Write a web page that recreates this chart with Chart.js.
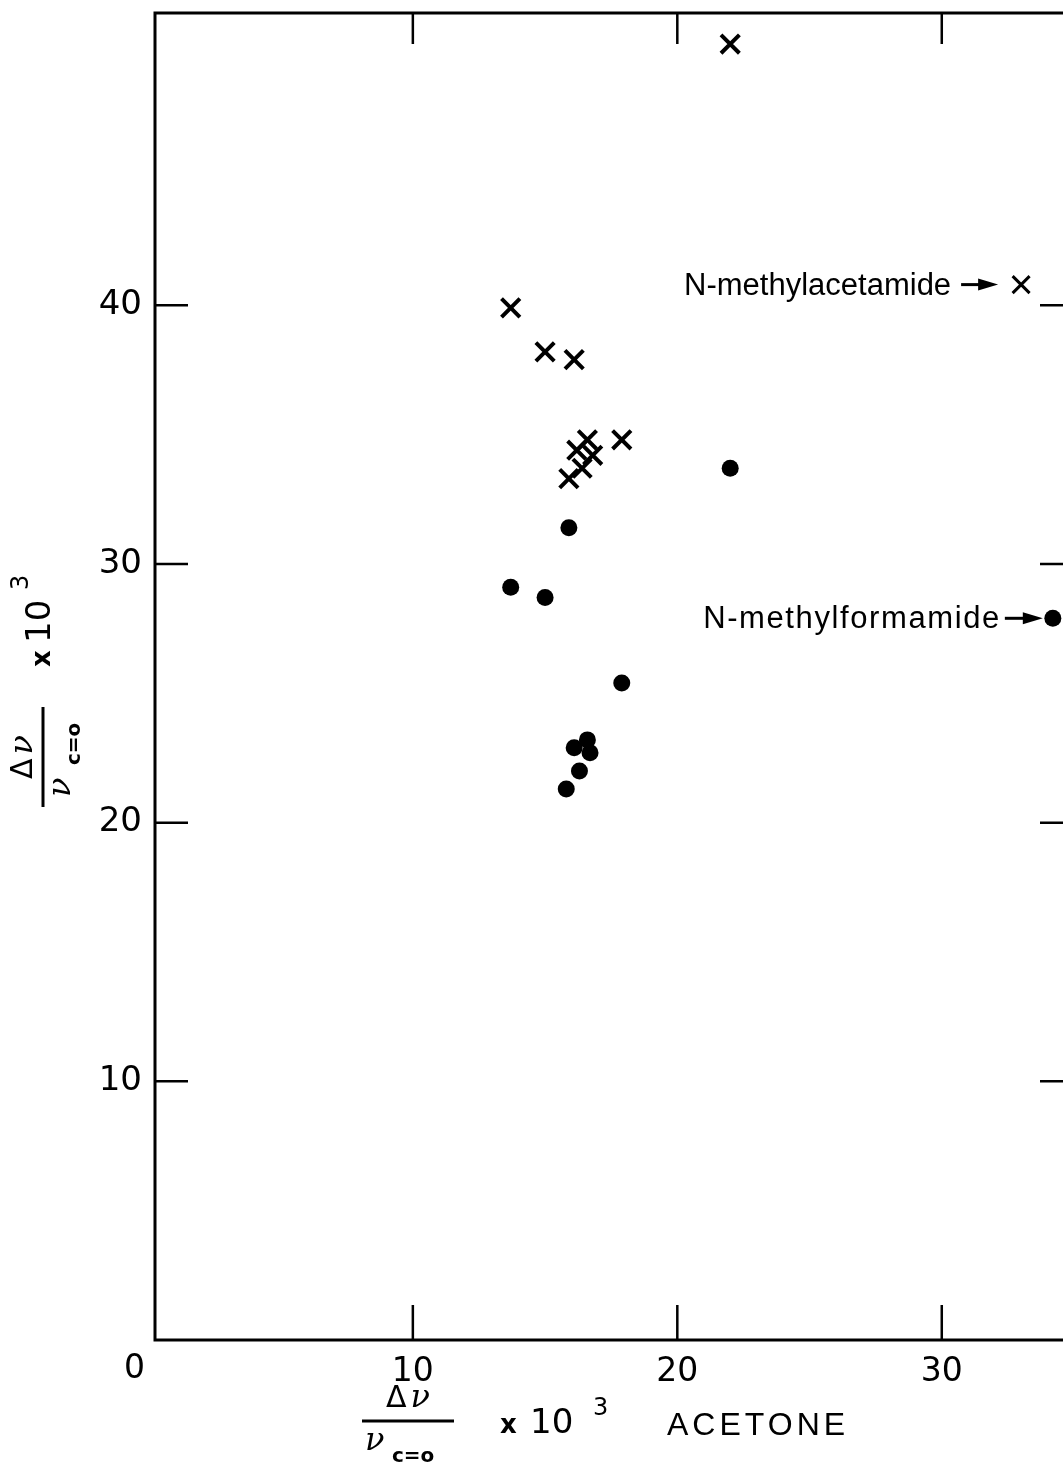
<!DOCTYPE html>
<html>
<head>
<meta charset="utf-8">
<script src="https://cdn.jsdelivr.net/npm/chart.js@4.4.1/dist/chart.umd.min.js"></script>
<style>
  html, body { margin: 0; padding: 0; background: #fff; overflow: hidden; }
  canvas { display: block; }
</style>
</head>
<body>
<canvas id="shiftChart" width="1080" height="1467"></canvas>
<script>
// shift (x 10^3) against acetone shift (x 10^3)
const crossX = [22.0, 13.7, 15.0, 16.1, 15.9, 16.2, 16.6, 16.4, 16.8, 17.9];
const crossY = [50.1, 39.9, 38.2, 37.9, 33.3, 34.4, 34.8, 33.7, 34.2, 34.8];

const dotX = [15.9, 13.7, 15.0, 17.9, 16.6, 16.1, 16.7, 16.3, 15.8, 22.0];
const dotY = [31.4, 29.1, 28.7, 25.4, 23.2, 22.9, 22.7, 22.0, 21.3, 33.7];

// labelled points
const namedLabels = ['N-methylacetamide', 'N-methylformamide'];
const namedX = [33.0, 34.2];
const namedY = [40.8, 27.9];

const xTicks = [10, 20, 30];
const yTicks = [10, 20, 30, 40];

const toPts = (xs, ys) => xs.map((v, i) => ({ x: v, y: ys[i] }));

function arrow(ctx, x1, x2, y) {
  ctx.beginPath();
  ctx.moveTo(x1, y);
  ctx.lineTo(x2 - 14, y);
  ctx.lineWidth = 3;
  ctx.stroke();
  ctx.beginPath();
  ctx.moveTo(x2 - 20, y - 6);
  ctx.lineTo(x2, y);
  ctx.lineTo(x2 - 20, y + 6);
  ctx.closePath();
  ctx.fill();
}

// fraction dv / v(c=o) followed by "x 10^3"
function axisTitle(ctx, o) {
  ctx.textBaseline = 'alphabetic';
  ctx.textAlign = 'left';
  ctx.font = '30px "DejaVu Sans"';
  const dw = ctx.measureText('\u0394').width;
  ctx.font = 'italic 32px "DejaVu Serif"';
  const nw = ctx.measureText('\u03bd').width;
  let sx = -(dw + 4 + nw) / 2;
  ctx.font = '30px "DejaVu Sans"';
  ctx.fillText('\u0394', sx, o.numBase);
  ctx.font = 'italic 32px "DejaVu Serif"';
  ctx.fillText('\u03bd', sx + dw + 4, o.numBase);

  ctx.lineWidth = 3;
  ctx.beginPath();
  ctx.moveTo(-o.half, 0);
  ctx.lineTo(o.half, 0);
  ctx.stroke();

  ctx.fillText('\u03bd', o.denX, o.denBase);
  ctx.font = 'bold 20px "DejaVu Sans"';
  ctx.fillText('c=o', o.subX, o.subBase);

  ctx.font = 'bold 26px "DejaVu Sans"';
  ctx.fillText('x', o.xX, o.base);
  ctx.font = '34px "DejaVu Sans"';
  ctx.fillText('10', o.tenX, o.base);
  ctx.font = '24px "DejaVu Sans"';
  ctx.fillText('3', o.supX, o.supBase);
  if (o.extra) {
    ctx.font = '32px "Liberation Sans"';
    ctx.letterSpacing = '4px';
    ctx.fillText(o.extra, o.extraX, o.base + 2);
    ctx.letterSpacing = '0px';
  }
}

const framePlugin = {
  id: 'frameTicks',
  afterDraw(chart) {
    const { ctx, chartArea: a, scales: { x, y } } = chart;
    ctx.save();
    ctx.strokeStyle = '#000';
    ctx.fillStyle = '#000';
    ctx.lineWidth = 3;
    ctx.strokeRect(a.left, a.top, a.right - a.left, a.bottom - a.top);

    ctx.lineWidth = 2.5;
    ctx.beginPath();
    xTicks.forEach(v => {
      const px = x.getPixelForValue(v);
      ctx.moveTo(px, a.bottom); ctx.lineTo(px, a.bottom - 35);
      ctx.moveTo(px, a.top); ctx.lineTo(px, a.top + 31);
    });
    yTicks.forEach(v => {
      const py = y.getPixelForValue(v);
      ctx.moveTo(a.left, py); ctx.lineTo(a.left + 33, py);
      ctx.moveTo(a.right, py); ctx.lineTo(a.right - 34, py);
    });
    ctx.stroke();

    // origin label
    ctx.font = '33px "DejaVu Sans"';
    ctx.textAlign = 'center';
    ctx.textBaseline = 'alphabetic';
    ctx.fillText('0', x.getPixelForValue(0) - 14, a.bottom + 38);

    // named points
    ctx.font = '31px "Liberation Sans"';
    ctx.textAlign = 'right';
    const p1 = chart.getDatasetMeta(2).data[0];
    ctx.fillText(namedLabels[0], p1.x - 70, p1.y + 10);
    arrow(ctx, p1.x - 60, p1.x - 23, p1.y);
    const p2 = chart.getDatasetMeta(3).data[0];
    ctx.letterSpacing = '1.6px';
    ctx.fillText(namedLabels[1], p2.x - 52, p2.y + 10);
    ctx.letterSpacing = '0px';
    arrow(ctx, p2.x - 48, p2.x - 10, p2.y);

    // x title
    ctx.save();
    ctx.translate(408, a.bottom + 81);
    axisTitle(ctx, {
      numBase: -14, half: 46, denX: -43, denBase: 29, subX: -16, subBase: 41,
      xX: 92, tenX: 122, base: 12, supX: 185, supBase: -6,
      extra: 'ACETONE', extraX: 259
    });
    ctx.restore();

    // y title
    ctx.save();
    ctx.translate(43, 757);
    ctx.rotate(-Math.PI / 2);
    axisTitle(ctx, {
      numBase: -11, half: 50, denX: -40, denBase: 27, subX: -8, subBase: 37,
      xX: 90, tenX: 114, base: 7, supX: 167, supBase: -15
    });
    ctx.restore();

    ctx.restore();
  }
};

new Chart(document.getElementById('shiftChart'), {
  type: 'scatter',
  data: {
    datasets: [
      {
        label: 'crosses',
        data: toPts(crossX, crossY),
        pointStyle: 'crossRot',
        pointRadius: 13,
        borderColor: '#000',
        borderWidth: 4
      },
      {
        label: 'dots',
        data: toPts(dotX, dotY),
        pointStyle: 'circle',
        pointRadius: 8.5,
        backgroundColor: '#000',
        borderColor: '#000',
        borderWidth: 0
      },
      {
        label: namedLabels[0],
        data: [{ x: namedX[0], y: namedY[0] }],
        pointStyle: 'crossRot',
        pointRadius: 12,
        borderColor: '#000',
        borderWidth: 3
      },
      {
        label: namedLabels[1],
        data: [{ x: namedX[1], y: namedY[1] }],
        pointStyle: 'circle',
        pointRadius: 8.5,
        backgroundColor: '#000',
        borderColor: '#000',
        borderWidth: 0
      }
    ]
  },
  options: {
    responsive: false,
    animation: false,
    layout: { autoPadding: false, padding: { left: 5, right: 6, top: 13, bottom: 7 } },
    plugins: { legend: { display: false }, tooltip: { enabled: false } },
    scales: {
      x: {
        type: 'linear',
        min: 0.25,
        max: 35,
        afterBuildTicks: s => { s.ticks = xTicks.map(v => ({ value: v })); },
        afterFit: s => { s.height = 120; s.paddingLeft = 0; s.paddingRight = 0; },
        grid: { display: false, drawTicks: false },
        border: { display: false },
        ticks: { color: '#000', padding: 13, font: { family: 'DejaVu Sans', size: 33 } }
      },
      y: {
        type: 'linear',
        min: 0,
        max: 51.3,
        afterBuildTicks: s => { s.ticks = yTicks.map(v => ({ value: v })); },
        afterFit: s => { s.width = 150; s.paddingTop = 0; s.paddingBottom = 0; },
        grid: { display: false, drawTicks: false },
        border: { display: false },
        ticks: { color: '#000', padding: 13, font: { family: 'DejaVu Sans', size: 34 } }
      }
    }
  },
  plugins: [framePlugin]
});
</script>
</body>
</html>
